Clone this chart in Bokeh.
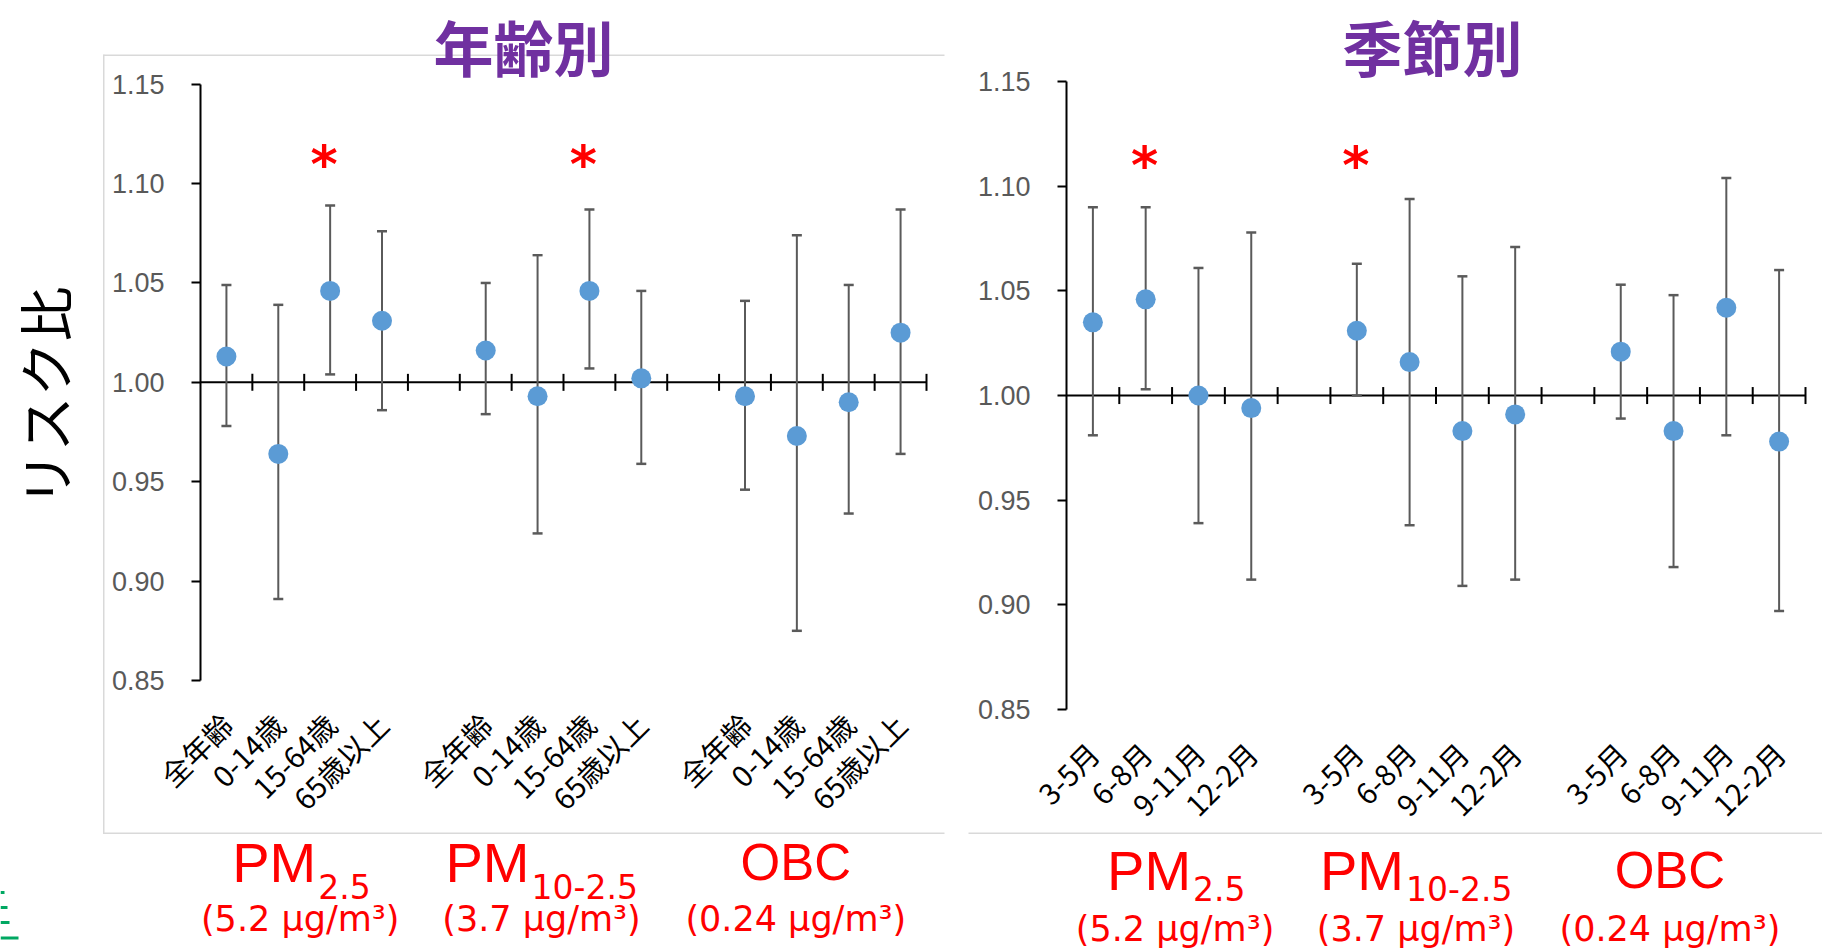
import math
from bokeh.plotting import figure
from bokeh.layouts import row
from bokeh.models import (Range1d, FixedTicker, NumeralTickFormatter, Label,
                          BoxAnnotation, ColumnDataSource, LinearAxis)
from bokeh.core.properties import value
from bokeh.embed import file_html
from bokeh.resources import INLINE

# ---------------- data ----------------
pollutant_main = ["PM", "PM", "OBC"]
pollutant_sub = ["2.5", "10-2.5", ""]
pollutant_conc = ["(5.2 μg/m³)", "(3.7 μg/m³)", "(0.24 μg/m³)"]

age_groups = ["全年齢", "0-14歳", "15-64歳", "65歳以上"]
seasons = ["3-5月", "6-8月", "9-11月", "12-2月"]

y_ticks = [0.85, 0.90, 0.95, 1.00, 1.05, 1.10, 1.15]

# risk ratio and 95% CI, grouped PM2.5 | PM10-2.5 | OBC
age_rr = [1.013, 0.964, 1.046, 1.031, 1.016, 0.993, 1.046, 1.002, 0.993, 0.973, 0.990, 1.025]
age_lo = [0.978, 0.891, 1.004, 0.986, 0.984, 0.924, 1.007, 0.959, 0.946, 0.875, 0.934, 0.964]
age_hi = [1.049, 1.039, 1.089, 1.076, 1.050, 1.064, 1.087, 1.046, 1.041, 1.074, 1.049, 1.087]
age_sig = [False, False, True, False, False, False, True, False, False, False, False, False]

season_rr = [1.035, 1.046, 1.000, 0.994, 1.031, 1.016, 0.983, 0.991, 1.021, 0.983, 1.042, 0.978]
season_lo = [0.981, 1.003, 0.939, 0.912, 1.000, 0.938, 0.909, 0.912, 0.989, 0.918, 0.981, 0.897]
season_hi = [1.090, 1.090, 1.061, 1.078, 1.063, 1.094, 1.057, 1.071, 1.053, 1.048, 1.104, 1.060]
season_sig = [False, True, False, False, True, False, False, False, False, False, False, False]

# ---------------- styling ----------------
BLUE = "#5B9BD5"
BAR = "#5A5A5A"
GRAY_TXT = "#595959"
RED = "#FF0000"
PURPLE = "#7030A0"
FRAME = "#D9D9D9"
GREEN = "#00A862"
CJK = "Noto Sans CJK JP"
STAR_LEVEL = 1.117
HEIGHT = 952
MAIN_SIZE = {"PM": "56px", "OBC": "51px"}
SUB_SHIFT = {"2.5": 16, "10-2.5": -12}


def stretch(v0, v1, p0, p1, total):
    """Range whose values v0..v1 land on pixels p0..p1 of a span `total` pixels long."""
    per = (p1 - p0) / (v1 - v0)
    return Range1d(v0 - p0 / per, v1 + (total - p1) / per)


def build_panel(title, subgroups, rr, lo, hi, sig, width, plot_box, title_x,
                ylabel, label_dx, label_y, star_dx, frame_lines):
    n_sub = len(subgroups)
    n_slots = len(pollutant_main) * (n_sub + 1) - 1
    xs = [g * (n_sub + 1) + i for g in range(len(pollutant_main)) for i in range(n_sub)]
    px_left, px_right, px_top, px_bottom = plot_box

    x_range = stretch(-0.5, n_slots - 0.5, px_left, px_right, width)
    y_range = stretch(y_ticks[0], y_ticks[-1], HEIGHT - px_bottom, HEIGHT - px_top, HEIGHT)

    p = figure(width=width, height=HEIGHT, x_range=x_range, y_range=y_range,
               x_axis_type=None, y_axis_type=None, title=None,
               min_border=0, min_border_left=0, min_border_right=0,
               min_border_top=0, min_border_bottom=0,
               output_backend="svg", toolbar_location=None)
    p.outline_line_color = None
    p.background_fill_color = "white"
    p.border_fill_color = "white"

    # value axis, pinned to the left edge of the category slots
    yax = LinearAxis(ticker=FixedTicker(ticks=y_ticks),
                     formatter=NumeralTickFormatter(format="0.00"),
                     fixed_location=-0.5, bounds=(y_ticks[0], y_ticks[-1]))
    yax.axis_line_color = "black"
    yax.axis_line_width = 2
    yax.major_tick_line_color = "black"
    yax.major_tick_line_width = 2
    yax.major_tick_out = 9
    yax.major_tick_in = 0
    yax.minor_tick_line_color = None
    yax.major_label_standoff = 27
    yax.major_label_text_font = "Liberation Sans"
    yax.major_label_text_font_size = "27px"
    yax.major_label_text_color = GRAY_TXT
    p.add_layout(yax, "left")

    # category labels along the bottom of the value axis
    xax = LinearAxis(ticker=FixedTicker(ticks=xs), fixed_location=y_ticks[0],
                     major_label_overrides={x: subgroups[i % n_sub] for i, x in enumerate(xs)})
    xax.axis_line_color = None
    xax.major_tick_line_color = None
    xax.minor_tick_line_color = None
    xax.major_tick_out = 0
    xax.major_tick_in = 0
    xax.major_label_orientation = math.pi / 4
    xax.major_label_standoff = 38
    xax.major_label_text_font = CJK
    xax.major_label_text_font_size = "29px"
    xax.major_label_text_color = "black"
    p.add_layout(xax, "below")

    # light panel frame lines and decorations (canvas pixels)
    for (l, r, t, b, c) in frame_lines:
        p.add_layout(BoxAnnotation(left=l, right=r, top=t, bottom=b,
                                   left_units="canvas", right_units="canvas",
                                   top_units="canvas", bottom_units="canvas",
                                   fill_color=c, fill_alpha=1.0, line_color=None,
                                   level="underlay"))

    # reference line at RR = 1 with category separators
    p.segment(x0=[-0.5], y0=[1.0], x1=[n_slots - 0.5], y1=[1.0],
              line_color="black", line_width=2)
    p.scatter(x=[k + 0.5 for k in range(n_slots)], y=[1.0] * n_slots, marker="dash",
              angle=math.pi / 2, size=17, line_color="black", line_width=2)

    src = ColumnDataSource(dict(x=xs, rr=rr, lo=lo, hi=hi))
    p.segment(x0="x", y0="lo", x1="x", y1="hi", source=src, line_color=BAR, line_width=2)
    p.scatter(x="x", y="lo", source=src, marker="dash", size=10, line_color=BAR, line_width=2.5)
    p.scatter(x="x", y="hi", source=src, marker="dash", size=10, line_color=BAR, line_width=2.5)
    p.scatter(x="x", y="rr", source=src, size=20, fill_color=BLUE, line_color=None)

    star_x = [x for x, s in zip(xs, sig) if s]
    p.text(x=star_x, y=[STAR_LEVEL] * len(star_x), text=["*"] * len(star_x),
           text_font=value("DejaVu Sans"), text_font_style="bold", text_font_size="52px",
           text_color=RED, text_align="center", text_baseline="middle",
           x_offset=star_dx, y_offset=14)

    # panel title
    p.add_layout(Label(x=title_x, y=HEIGHT - 45, x_units="screen", y_units="screen",
                       text=title, text_font=CJK, text_font_style="bold",
                       text_font_size="60px", text_color=PURPLE,
                       text_align="center", text_baseline="middle"))
    # vertical value-axis title
    if ylabel:
        p.add_layout(Label(x=42, y=HEIGHT - 396, x_units="screen", y_units="screen",
                           text=ylabel, text_font=CJK, text_font_size="55px",
                           text_color="black", angle=math.pi / 2,
                           text_align="center", text_baseline="middle"))

    # pollutant names under each group
    main_y, sub_y, conc_y = label_y
    for g in range(len(pollutant_main)):
        cx = g * (n_sub + 1) + (n_sub - 1) / 2
        dx = label_dx[g]
        size = MAIN_SIZE[pollutant_main[g]]
        if pollutant_sub[g]:
            shift = SUB_SHIFT[pollutant_sub[g]]
            p.add_layout(Label(x=cx, y=main_y, y_units="screen", x_offset=dx + shift,
                               text=pollutant_main[g], text_font="Liberation Sans",
                               text_font_size=size, text_color=RED,
                               text_align="right", text_baseline="alphabetic"))
            p.add_layout(Label(x=cx, y=sub_y, y_units="screen", x_offset=dx + shift + 2,
                               text=pollutant_sub[g], text_font="DejaVu Sans",
                               text_font_size="33px", text_color=RED,
                               text_align="left", text_baseline="alphabetic"))
        else:
            p.add_layout(Label(x=cx, y=main_y, y_units="screen", x_offset=dx,
                               text=pollutant_main[g], text_font="Liberation Sans",
                               text_font_size=size, text_color=RED,
                               text_align="center", text_baseline="alphabetic"))
        p.add_layout(Label(x=cx, y=conc_y, y_units="screen", x_offset=dx,
                           text=pollutant_conc[g], text_font="DejaVu Sans",
                           text_font_size="35px", text_color=RED,
                           text_align="center", text_baseline="alphabetic"))
    return p


left = build_panel("年齢別", age_groups, age_rr, age_lo, age_hi, age_sig,
                   width=960, plot_box=(200, 926, 83.7, 680), title_x=523,
                   ylabel="リスク比", label_dx=[-4, -22, -27],
                   label_y=(90, 66, 34), star_dx=-6,
                   frame_lines=[(102.5, 104, 54, 833.5, FRAME),
                                (103, 944, 54, 55.5, FRAME),
                                (103, 944, 832, 833.5, FRAME),
                                (0, 4, 890.5, 893.5, GREEN),
                                (0, 7, 905.5, 908.5, GREEN),
                                (0, 9, 920.5, 923.5, GREEN),
                                (0, 18, 936, 939, GREEN)])

right = build_panel("季節別", seasons, season_rr, season_lo, season_hi, season_sig,
                    width=862, plot_box=(106, 845, 81.3, 708.8), title_x=472,
                    ylabel=None, label_dx=[3, -20, -30],
                    label_y=(82, 64, 24), star_dx=-1,
                    frame_lines=[(8, 862, 832, 833.5, FRAME)])

layout = row(left, right)
open("out.html", "w").write(file_html(layout, INLINE))
